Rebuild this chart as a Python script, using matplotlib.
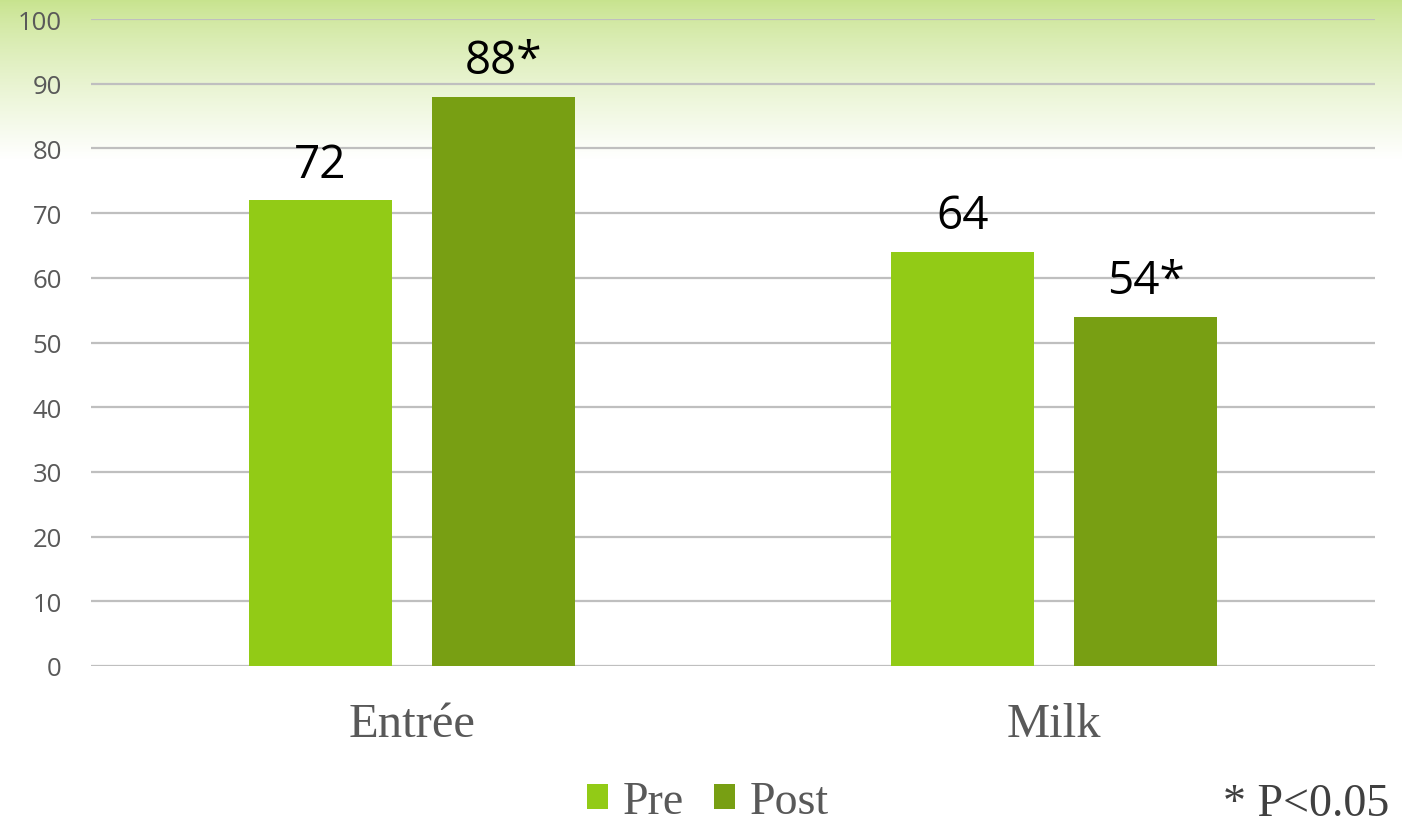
import numpy as np
import matplotlib
matplotlib.use('Agg')
import matplotlib.pyplot as plt
from matplotlib.patches import Patch

categories = ['Entrée', 'Milk']
series = ['Pre', 'Post']
pre_values = [72, 64]
post_values = [88, 54]
value_labels_pre = ['72', '64']
value_labels_post = ['88*', '54*']
y_ticks = [0, 10, 20, 30, 40, 50, 60, 70, 80, 90, 100]
note = '* P<0.05'

pre_color = '#92CB16'
post_color = '#789F13'
grey_text = '#595959'

fig = plt.figure(figsize=(14.02, 8.28), dpi=100)

# green gradient backdrop at top of slide
bg = fig.add_axes([0, 0, 1, 1], zorder=-10)
h = 828
yy = np.linspace(0, 1, h)[:, None]
t = np.clip(yy * 828 / 160.0, 0, 1) ** 0.8
top = np.array([0.78, 0.89, 0.55])
col = top[None, None, :] * (1 - t[:, :, None]) + np.ones(3)[None, None, :] * t[:, :, None]
bg.imshow(np.repeat(col, 4, axis=1), aspect='auto', extent=[0, 1, 0, 1], origin='upper')
bg.axis('off')

ax = fig.add_axes([91 / 1402, 1 - 667 / 828, (1375 - 91) / 1402, (667 - 20) / 828])
ax.patch.set_alpha(0)

x = np.arange(len(categories))
width = 0.224
offset = 0.1425
bars_pre = ax.bar(x - offset, pre_values, width, color=pre_color, zorder=3)
bars_post = ax.bar(x + offset, post_values, width, color=post_color, zorder=3)

for bars, labels in ((bars_pre, value_labels_pre), (bars_post, value_labels_post)):
    for b, lab in zip(bars, labels):
        ax.annotate(lab, (b.get_x() + b.get_width() / 2, b.get_height()),
                    xytext=(0, 17), textcoords='offset points',
                    ha='center', va='baseline', fontsize=33,
                    family='Open Sans', color='black')

ax.set_xlim(-0.5, 1.5)
ax.set_ylim(0, 100)
ax.set_yticks(y_ticks)
ax.yaxis.grid(True, color='#BFBFBF', linewidth=1.6, zorder=0)
ax.set_axisbelow(True)
for s in ax.spines.values():
    s.set_visible(False)
ax.tick_params(axis='y', length=0, pad=21, labelsize=18.5, labelcolor=grey_text)
for lab in ax.get_yticklabels():
    lab.set_family('Open Sans')
ax.set_xticks(x)
ax.set_xticklabels(categories, family='Liberation Serif', fontsize=35, color=grey_text)
ax.tick_params(axis='x', length=0, pad=26)

handles = [Patch(facecolor=pre_color), Patch(facecolor=post_color)]
leg = fig.legend(handles, series, loc='center', bbox_to_anchor=(0.505, 0.031),
                 ncol=2, frameon=False, handlelength=0.46, handleheight=0.46,
                 handletextpad=0.33, columnspacing=0.65,
                 prop={'family': 'Liberation Serif', 'size': 33})
for t_ in leg.get_texts():
    t_.set_color(grey_text)

fig.text(0.991, 0.015, note, ha='right', va='baseline', fontsize=33,
         family='Liberation Serif', color='#404040')

fig.savefig('out.png', dpi=100)
